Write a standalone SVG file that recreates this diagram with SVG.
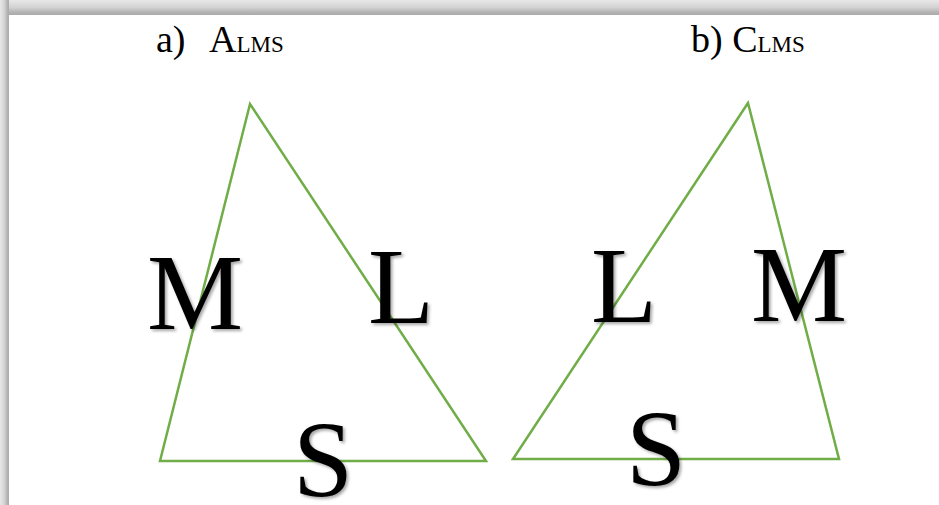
<svg xmlns="http://www.w3.org/2000/svg" width="939" height="505" viewBox="0 0 939 505">
<defs>
<linearGradient id="gt" x1="0" y1="0" x2="0" y2="1"><stop offset="0" stop-color="#e8e8e8"/><stop offset="0.5" stop-color="#d2d2d2"/><stop offset="0.8" stop-color="#b4b4b4"/><stop offset="1" stop-color="#aaaaaa"/></linearGradient>
<linearGradient id="gl" x1="0" y1="0" x2="1" y2="0"><stop offset="0" stop-color="#e8e8e8"/><stop offset="0.5" stop-color="#d2d2d2"/><stop offset="0.8" stop-color="#b4b4b4"/><stop offset="1" stop-color="#aaaaaa"/></linearGradient>
<filter id="sh" x="-10%" y="-10%" width="130%" height="130%"><feDropShadow dx="2" dy="2" stdDeviation="1.5" flood-color="#000" flood-opacity="0.35"/></filter>
</defs>
<style>
.tri{fill:none;stroke:#70AD47;stroke-width:2.5;stroke-linejoin:miter}
.big{font-family:"Liberation Serif","Times New Roman",serif;font-size:108px;fill:#000;filter:url(#sh)}
.t{font-family:"Liberation Serif","Times New Roman",serif;font-size:38px;fill:#000}
.s{font-size:23px}
</style>
<rect width="939" height="505" fill="#ffffff"/>
<rect x="0" y="0" width="939" height="15" fill="url(#gt)"/>
<rect x="0" y="0" width="9" height="505" fill="url(#gl)"/>
<g id="title-a"><text class="t" x="156" y="52">a)<tspan x="209">A</tspan><tspan class="s">LMS</tspan></text></g>
<g id="title-b"><text class="t" x="691" y="52">b) C<tspan class="s">LMS</tspan></text></g>
<g id="connectors">
<polygon class="tri" points="250,104 160,461 486,461"/>
<polygon class="tri" points="748,103 513,459 839,459"/>
</g>
<g id="a-M"><text class="big" x="147" y="329">M</text></g>
<g id="a-L"><text class="big" x="368" y="323">L</text></g>
<g id="a-S"><text class="big" x="293" y="496">S</text></g>
<g id="b-L"><text class="big" x="591" y="322">L</text></g>
<g id="b-M"><text class="big" x="751" y="321">M</text></g>
<g id="b-S"><text class="big" x="626" y="485">S</text></g>
</svg>
